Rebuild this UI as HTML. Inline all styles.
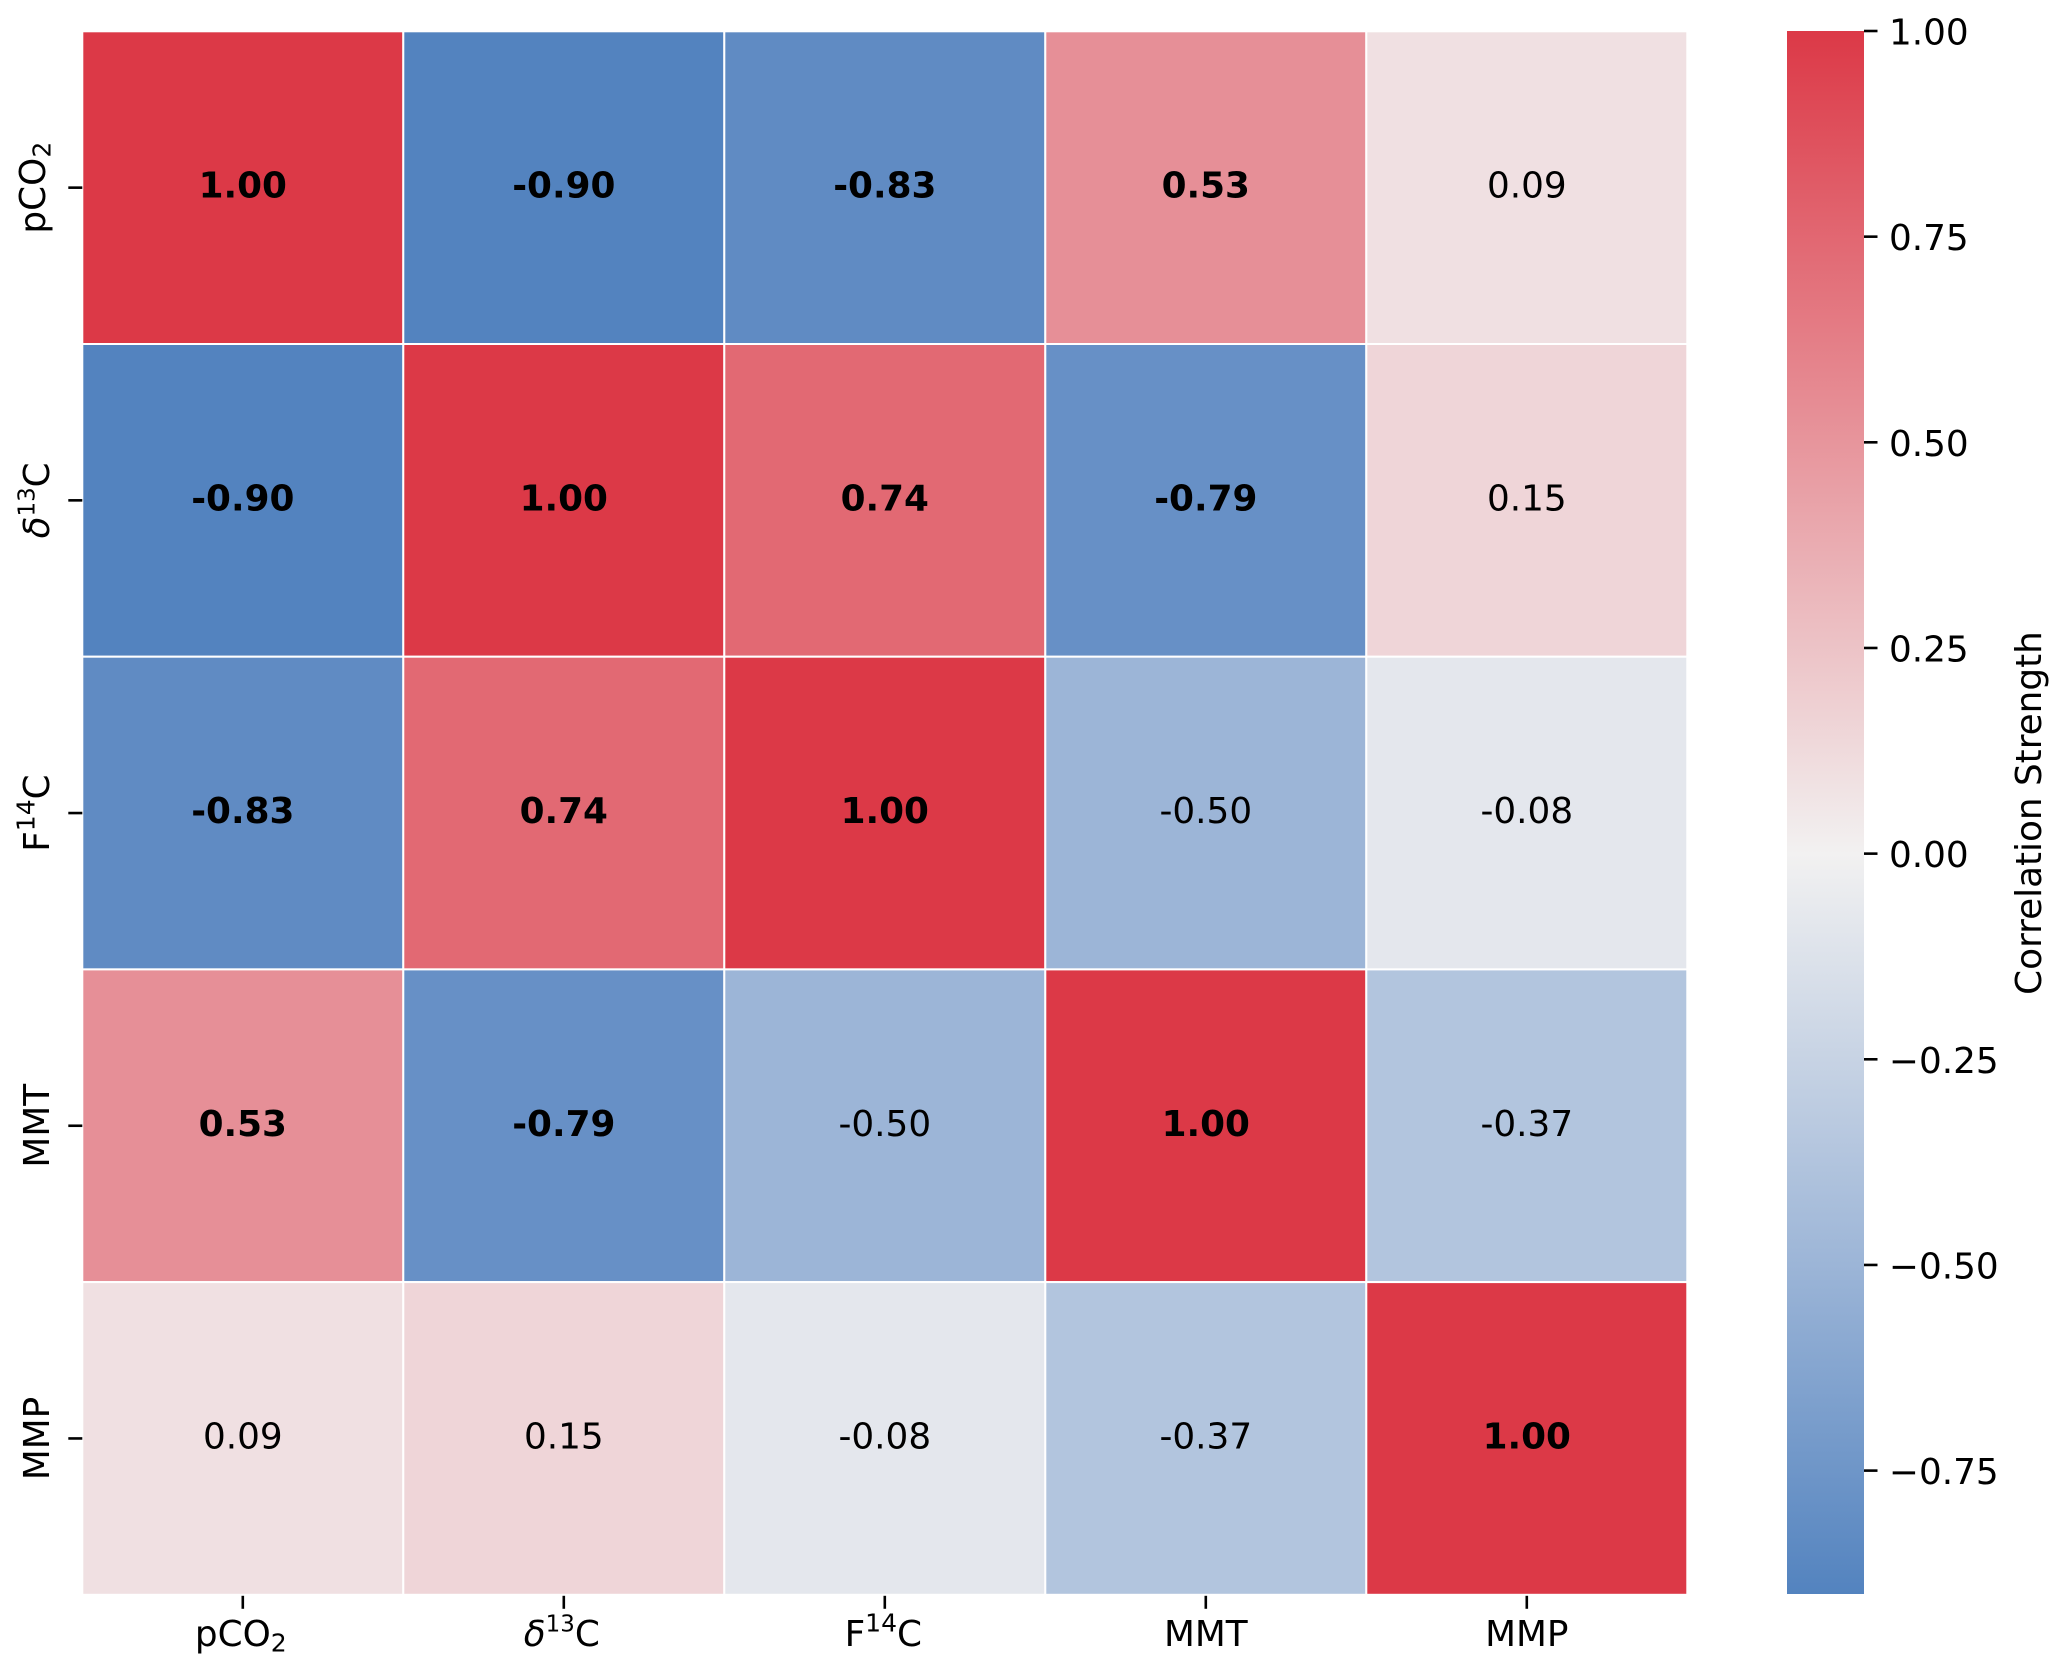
<!DOCTYPE html>
<html lang="en">
<head>
<meta charset="utf-8">
<title>Correlation heatmap</title>
<style>
  html, body { margin: 0; padding: 0; background: #ffffff; }
  svg { display: block; }
  text { font-family: "DejaVu Sans", "Liberation Sans", sans-serif; fill: #000; }
</style>
</head>
<body>
<svg id="chart" xmlns="http://www.w3.org/2000/svg" width="2067" height="1672" viewBox="0 0 2067 1672">
  <defs>
    <linearGradient id="cbar-gradient" x1="0" y1="0" x2="0" y2="1"></linearGradient>
  </defs>
  <rect x="0" y="0" width="2067" height="1672" fill="#ffffff"/>
  <g id="cells"></g>
  <g id="annotations"></g>
  <g id="x-axis"></g>
  <g id="y-axis"></g>
  <g id="colorbar"></g>
</svg>
<script>
// ---- chart data ----
var rowLabels = ['pCO2', 'd13C', 'F14C', 'MMT', 'MMP'];
var columnLabels = ['pCO2', 'd13C', 'F14C', 'MMT', 'MMP'];
var rowPco2 = [1.00, -0.90, -0.83, 0.53, 0.09];
var rowD13c = [-0.90, 1.00, 0.74, -0.79, 0.15];
var rowF14c = [-0.83, 0.74, 1.00, -0.50, -0.08];
var rowMmt = [0.53, -0.79, -0.50, 1.00, -0.37];
var rowMmp = [0.09, 0.15, -0.08, -0.37, 1.00];
var correlationRows = [rowPco2, rowD13c, rowF14c, rowMmt, rowMmp];
var colorbarTicks = [1.00, 0.75, 0.50, 0.25, 0.00, -0.25, -0.50, -0.75];
var colorbarDomain = [-0.90, 1.00];
var colorbarTitle = 'Correlation Strength';
var boldThreshold = 0.5;

// ---- axis functions ----
var NS = 'http://www.w3.org/2000/svg';
var FONT = 35.8;
var plot = { left: 82.3, top: 31.3, width: 1605, height: 1563.5 };
var bar = { left: 1787, right: 1864, top: 31, bottom: 1594 };

function xBand() { return plot.width / columnLabels.length; }
function yBand() { return plot.height / rowLabels.length; }
function xScale(i) { return plot.left + i * xBand(); }
function yScale(i) { return plot.top + i * yBand(); }
function barScale(v) {
  return bar.top + (colorbarDomain[1] - v) / (colorbarDomain[1] - colorbarDomain[0]) * (bar.bottom - bar.top);
}
function mix(a, b, t) { return Math.round(a + (b - a) * t); }
function colorOf(v) {
  var ramp = [
    [-1.0, 65, 118, 185],
    [-0.5, 156, 181, 215],
    [0.0, 242, 241, 241],
    [1.0, 220, 57, 71]
  ];
  var x = Math.max(-1, Math.min(1, v));
  for (var i = 1; i < ramp.length; i++) {
    if (x <= ramp[i][0]) {
      var a = ramp[i - 1], b = ramp[i], t = (x - a[0]) / (b[0] - a[0]);
      return 'rgb(' + mix(a[1], b[1], t) + ',' + mix(a[2], b[2], t) + ',' + mix(a[3], b[3], t) + ')';
    }
  }
  return 'rgb(220,57,71)';
}
function make(tag, attrs, parent) {
  var el = document.createElementNS(NS, tag);
  for (var k in attrs) { el.setAttribute(k, attrs[k]); }
  parent.appendChild(el);
  return el;
}
function addSpan(parent, text, opts) {
  var s = document.createElementNS(NS, 'tspan');
  if (opts.size) { s.setAttribute('font-size', opts.size); }
  if (opts.dy) { s.setAttribute('dy', opts.dy); }
  if (opts.italic) { s.setAttribute('font-style', 'italic'); }
  s.textContent = text;
  parent.appendChild(s);
}
function fillLabel(t, key) {
  var small = FONT * 0.7;
  if (key === 'pCO2') {
    addSpan(t, 'pCO', {});
    addSpan(t, '2', { size: small, dy: 5.4 });
  } else if (key === 'd13C') {
    addSpan(t, '\u03B4', { italic: true });
    addSpan(t, '13', { size: FONT * 0.64, dy: -14.5 });
    addSpan(t, 'C', { dy: 14.5 });
  } else if (key === 'F14C') {
    addSpan(t, 'F', {});
    addSpan(t, '14', { size: small, dy: -14.5 });
    addSpan(t, 'C', { dy: 14.5 });
  } else {
    addSpan(t, key, {});
  }
}
function labelNudge(key) {
  if (key === 'pCO2' || key === 'd13C') { return -2; }
  if (key === 'F14C') { return -1.5; }
  return 0;
}

// ---- heatmap ----
var cellsGroup = document.getElementById('cells');
var annotationsGroup = document.getElementById('annotations');
correlationRows.forEach(function (row, r) {
  row.forEach(function (v, c) {
    var rect = make('rect', {
      x: xScale(c), y: yScale(r), width: xBand(), height: yBand(),
      fill: colorOf(v), stroke: '#ffffff', 'stroke-width': 2
    }, cellsGroup);
    
    

    var label = make('text', {
      x: xScale(c) + xBand() / 2, y: yScale(r) + yBand() / 2 + 10,
      'text-anchor': 'middle', 'font-size': FONT,
      'font-weight': Math.abs(v) > boldThreshold ? 'bold' : 'normal'
    }, annotationsGroup);
    
    
    label.textContent = v.toFixed(2);
  });
});

// ---- x axis ----
var xGroup = document.getElementById('x-axis');
columnLabels.forEach(function (name, i) {
  var cx = xScale(i) + xBand() / 2;
  var tick = make('line', { x1: cx, x2: cx, y1: plot.top + plot.height + 1, y2: plot.top + plot.height + 14, stroke: '#000', 'stroke-width': 2.6 }, xGroup);
  
  
  var t = make('text', { x: cx + labelNudge(name), y: 1646, 'text-anchor': 'middle', 'font-size': FONT }, xGroup);
  
  
  fillLabel(t, name);
});

// ---- y axis ----
var yGroup = document.getElementById('y-axis');
rowLabels.forEach(function (name, i) {
  var cy = yScale(i) + yBand() / 2;
  var tick = make('line', { x1: plot.left - 14, x2: plot.left, y1: cy, y2: cy, stroke: '#000', 'stroke-width': 2.6 }, yGroup);
  
  
  var bx = name === 'pCO2' ? 45 : 49;
  var t = make('text', { x: 0, y: 0, 'text-anchor': 'middle', 'font-size': FONT, transform: 'translate(' + bx + ' ' + cy + ') rotate(-90)' }, yGroup);
  
  
  fillLabel(t, name);
});

// ---- colorbar ----
var gradient = document.getElementById('cbar-gradient');
var stopValues = [colorbarDomain[1], 0, -0.5, colorbarDomain[0]];
stopValues.forEach(function (v) {
  var off = (barScale(v) - bar.top) / (bar.bottom - bar.top);
  make('stop', { offset: off, 'stop-color': colorOf(v) }, gradient);
});
var cbarGroup = document.getElementById('colorbar');
var strip = make('rect', { x: bar.left, y: bar.top, width: bar.right - bar.left, height: bar.bottom - bar.top, fill: 'url(#cbar-gradient)' }, cbarGroup);


colorbarTicks.forEach(function (v) {
  var y = barScale(v);
  var tick = make('line', { x1: bar.right, x2: bar.right + 13.5, y1: y, y2: y, stroke: '#000', 'stroke-width': 2.6 }, cbarGroup);
  
  
  var t = make('text', { x: 1889, y: y + 13.5, 'font-size': FONT }, cbarGroup);
  
  
  t.textContent = (v < 0 ? '\u2212' : '') + Math.abs(v).toFixed(2);
});
var title = make('text', { x: 0, y: 0, 'text-anchor': 'middle', 'font-size': FONT, transform: 'translate(2041 813) rotate(-90)' }, cbarGroup);


title.textContent = colorbarTitle;
</script>
</body>
</html>
